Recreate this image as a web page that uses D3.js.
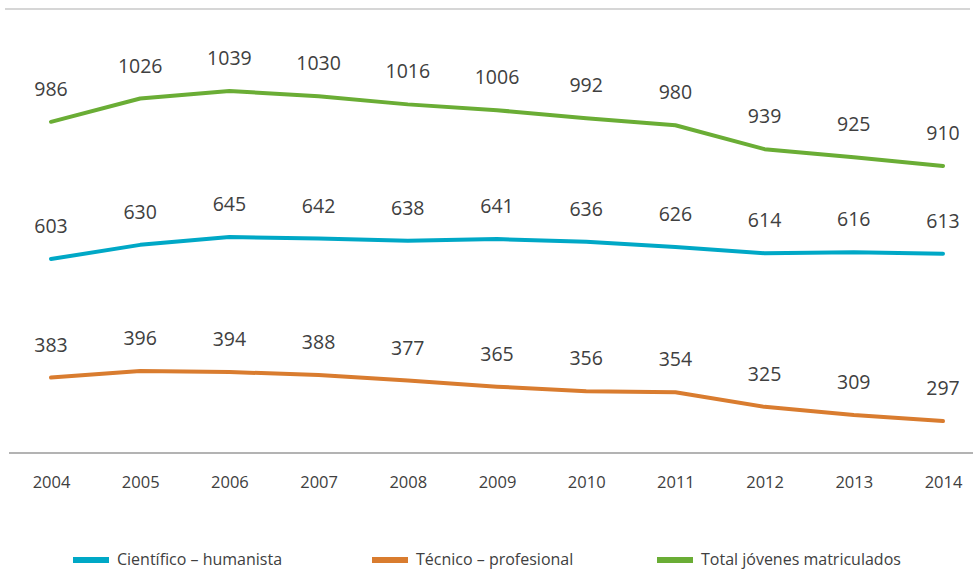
<!DOCTYPE html>
<html>
<head>
<meta charset="utf-8">
<script src="https://cdnjs.cloudflare.com/ajax/libs/d3/7.8.5/d3.min.js"></script>
<style>
  body { margin: 0; background: #fff; }
  text { font-family: "Open Sans", "Noto Sans", sans-serif; fill: #404040; }
</style>
</head>
<body>
<div id="chart"></div>
<script>
var years = [2004, 2005, 2006, 2007, 2008, 2009, 2010, 2011, 2012, 2013, 2014];
var cientifico = [603, 630, 645, 642, 638, 641, 636, 626, 614, 616, 613];
var tecnico = [383, 396, 394, 388, 377, 365, 356, 354, 325, 309, 297];
var total = [986, 1026, 1039, 1030, 1016, 1006, 992, 980, 939, 925, 910];
var seriesNames = ["Científico – humanista", "Técnico – profesional", "Total jóvenes matriculados"];
var seriesColors = ["#00a8c6", "#d97c2f", "#6aad35"];

var width = 973, height = 570;

var svg = d3.select("#chart").append("svg")
    .attr("width", width)
    .attr("height", height);

var x = d3.scalePoint()
    .domain(years)
    .range([51, 943]);

// each series sits in its own band of the plot (broken axis)
var bands = [
  {values: cientifico, range: [259, 237]},
  {values: tecnico, range: [421, 371]},
  {values: total, range: [166, 91]}
];

// top rule
svg.append("line")
    .attr("x1", 5).attr("x2", 970)
    .attr("y1", 9).attr("y2", 9)
    .style("stroke", "#c8c8c8")
    .style("stroke-width", 1.5);

// x axis
var xAxis = d3.axisBottom(x).tickSize(0).tickPadding(0);
var gx = svg.append("g")
    .attr("transform", "translate(0,453)")
    .call(xAxis);
gx.select(".domain").remove();
gx.append("line")
    .attr("x1", 9).attr("x2", 973)
    .style("stroke", "#9a9a9a")
    .style("stroke-width", 1.5);
gx.selectAll(".tick text")
    .attr("dy", null)
    .attr("y", 35)
    .style("font-size", "16.5px")
    .style("font-family", "'Open Sans', 'Noto Sans', sans-serif")
    .style("fill", "#404040");

bands.forEach(function(b, i) {
  var y = d3.scaleLinear()
      .domain(d3.extent(b.values))
      .range(b.range);

  var line = d3.line()
      .x(function(d, j) { return x(years[j]); })
      .y(function(d) { return y(d); });

  svg.append("path")
      .datum(b.values)
      .attr("d", line)
      .style("fill", "none")
      .style("stroke", seriesColors[i])
      .style("stroke-width", 4)
      .style("stroke-linejoin", "round")
      .style("stroke-linecap", "round");

  svg.selectAll(".lbl" + i)
      .data(b.values)
    .enter().append("text")
      .attr("class", "lbl" + i)
      .attr("x", function(d, j) { return x(years[j]); })
      .attr("y", function(d) { return y(d) - 26; })
      .style("text-anchor", "middle")
      .style("font-size", "19.5px")
      .text(function(d) { return d; });
});

// legend
var legendX = [73, 372, 657];
var legend = svg.selectAll(".legend")
    .data(seriesNames)
  .enter().append("g")
    .attr("class", "legend")
    .attr("transform", function(d, i) { return "translate(" + legendX[i] + ",557)"; });

legend.append("rect")
    .attr("width", 36)
    .attr("height", 6)
    .style("fill", function(d, i) { return seriesColors[i]; });

legend.append("text")
    .attr("x", 44)
    .attr("y", 8)
    .style("font-size", "16px")
    .text(function(d) { return d; });
</script>
</body>
</html>
